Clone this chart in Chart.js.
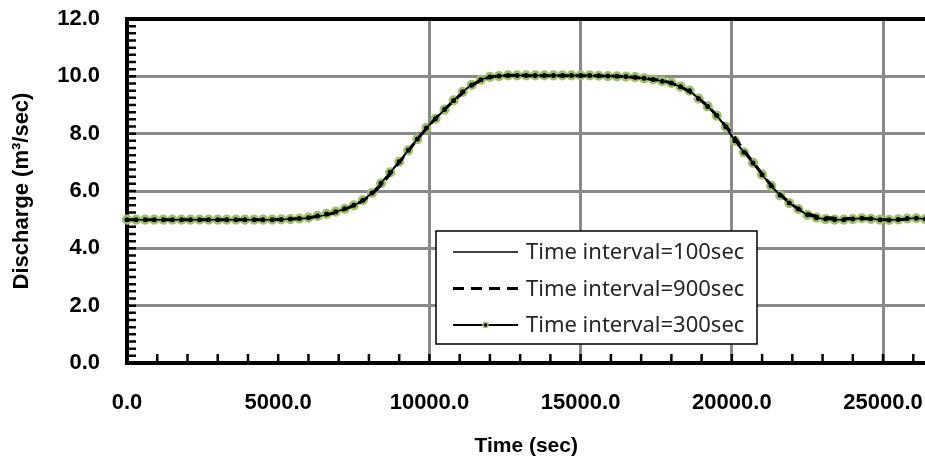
<!DOCTYPE html>
<html>
<head>
<meta charset="utf-8">
<script src="https://cdn.jsdelivr.net/npm/chart.js@4.4.1/dist/chart.umd.min.js"></script>
<style>
  body { margin: 0; background: #fff; overflow: hidden; }
</style>
</head>
<body>
<canvas id="chart" width="932" height="460"></canvas>
<script>
// discharge readings (m3/sec), one value per time step
const seriesNames = ['Time interval=100sec', 'Time interval=900sec', 'Time interval=300sec'];
const stepSec = [100, 900, 300];

const q100 = [
  5.00, 5.00, 5.00, 5.00, 5.00, 5.00, 5.00, 5.00, 5.00, 5.00,
  5.00, 5.00, 5.00, 5.00, 5.00, 5.00, 5.00, 5.00, 5.00, 5.00,
  5.00, 5.00, 5.00, 5.00, 5.00, 5.00, 5.00, 5.00, 5.00, 5.00,
  5.00, 5.00, 5.00, 5.00, 5.00, 5.00, 5.00, 5.00, 5.00, 5.00,
  5.00, 5.00, 5.00, 5.00, 5.00, 5.00, 5.00, 5.00, 5.00, 5.00,
  5.01, 5.01, 5.01, 5.02, 5.02, 5.02, 5.03, 5.03, 5.04, 5.05,
  5.06, 5.07, 5.09, 5.11, 5.13, 5.15, 5.18, 5.21, 5.24, 5.27,
  5.31, 5.34, 5.38, 5.42, 5.46, 5.50, 5.55, 5.61, 5.68, 5.76,
  5.84, 5.93, 6.03, 6.15, 6.27, 6.40, 6.52, 6.65, 6.77, 6.90,
  7.02, 7.15, 7.29, 7.42, 7.55, 7.68, 7.81, 7.94, 8.07, 8.20,
  8.31, 8.41, 8.52, 8.63, 8.73, 8.84, 8.95, 9.06, 9.16, 9.26,
  9.36, 9.46, 9.55, 9.63, 9.70, 9.77, 9.83, 9.88, 9.92, 9.95,
  9.98, 10.00, 10.01, 10.02, 10.02, 10.03, 10.03, 10.03, 10.03, 10.03,
  10.03, 10.03, 10.03, 10.03, 10.03, 10.03, 10.03, 10.03, 10.03, 10.03,
  10.03, 10.03, 10.03, 10.03, 10.03, 10.03, 10.03, 10.03, 10.03, 10.03,
  10.03, 10.03, 10.03, 10.03, 10.02, 10.02, 10.02, 10.02, 10.01, 10.01,
  10.01, 10.00, 10.00, 9.99, 9.99, 9.98, 9.98, 9.97, 9.96, 9.95,
  9.94, 9.93, 9.91, 9.90, 9.88, 9.87, 9.85, 9.83, 9.81, 9.79,
  9.77, 9.73, 9.68, 9.64, 9.60, 9.55, 9.50, 9.41, 9.32, 9.22,
  9.13, 9.04, 8.95, 8.84, 8.74, 8.63, 8.50, 8.37, 8.24, 8.08,
  7.91, 7.75, 7.62, 7.48, 7.35, 7.23, 7.10, 6.98, 6.84, 6.71,
  6.57, 6.44, 6.31, 6.18, 6.07, 5.96, 5.85, 5.76, 5.67, 5.58,
  5.51, 5.44, 5.37, 5.30, 5.23, 5.17, 5.13, 5.10, 5.07, 5.05,
  5.03, 5.02, 5.01, 5.00, 5.00, 5.00, 5.00, 5.00, 5.01, 5.01,
  5.02, 5.03, 5.04, 5.05, 5.05, 5.04, 5.03, 5.02, 5.01, 5.00,
  5.00, 4.99, 4.99, 5.00, 5.00, 5.01, 5.02, 5.03, 5.04, 5.04,
  5.05, 5.05, 5.04, 5.03, 5.02
];

const q900 = [
  5.00, 5.00, 5.00, 5.00, 5.00, 5.00, 5.02, 5.12, 5.36, 5.90,
  7.00, 8.18, 9.14, 9.86, 10.03, 10.02, 10.02, 10.02, 10.00, 9.93,
  9.76, 9.23, 8.26, 7.00, 5.88, 5.22, 5.05, 5.04, 5.00, 5.03
];

const q300 = [
  5.00, 5.00, 5.00, 5.00, 5.00, 5.00, 5.00, 5.00, 5.00, 5.00,
  5.00, 5.00, 5.00, 5.00, 5.00, 5.00, 5.00, 5.01, 5.02, 5.04,
  5.07, 5.13, 5.20, 5.28, 5.38, 5.50, 5.68, 5.93, 6.27, 6.65,
  7.02, 7.42, 7.81, 8.20, 8.52, 8.84, 9.16, 9.46, 9.70, 9.88,
  9.98, 10.01, 10.03, 10.03, 10.03, 10.03, 10.03, 10.03, 10.03, 10.03,
  10.03, 10.03, 10.02, 10.01, 10.00, 9.99, 9.97, 9.93, 9.89, 9.83,
  9.77, 9.64, 9.50, 9.22, 8.95, 8.63, 8.24, 7.75, 7.35, 6.98,
  6.57, 6.18, 5.85, 5.58, 5.37, 5.17, 5.07, 5.02, 5.00, 5.00,
  5.02, 5.05, 5.03, 5.00, 4.99, 5.01, 5.04, 5.05, 5.02
];

// axis ticks
const xTicks = [0, 5000, 10000, 15000, 20000, 25000];
const yTicks = [0, 2, 4, 6, 8, 10, 12];
const xMax = 26400, yMax = 12;
const xMinor = 1000, yMinor = 0.25;

const toPoints = (vals, dt) => vals.map((v, i) => ({ x: i * dt, y: v }));

const tickFont = { family: 'Liberation Sans, Arial, sans-serif', size: 22, weight: 'bold' };
const titleFont = { family: 'Liberation Sans, Arial, sans-serif', size: 21, weight: 'bold' };
const green = '#9fc06a';
const gridGray = '#8a8a8a';

// plot frame and small inner ticks
const frame = {
  id: 'frame',
  beforeDatasetsDraw(chart) {
    const { ctx, chartArea: a, scales: { x, y } } = chart;
    ctx.save();
    ctx.strokeStyle = '#000';
    ctx.lineWidth = 2.5;
    ctx.beginPath();
    for (let v = yMinor; v < yMax; v += yMinor) {
      const py = y.getPixelForValue(v);
      ctx.moveTo(a.left, py); ctx.lineTo(a.left + 9, py);
    }
    for (let t = xMinor; t < xMax; t += xMinor) {
      const px = x.getPixelForValue(t);
      ctx.moveTo(px, a.bottom); ctx.lineTo(px, a.bottom - 9);
    }
    ctx.stroke();
    ctx.lineWidth = 4;
    ctx.beginPath();
    ctx.moveTo(a.right + 10, a.top);
    ctx.lineTo(a.left, a.top);
    ctx.lineTo(a.left, a.bottom);
    ctx.lineTo(a.right + 10, a.bottom);
    ctx.stroke();
    ctx.restore();
  }
};

// legend box inside the plot
const boxLegend = {
  id: 'boxLegend',
  afterDraw(chart, args, opts) {
    const ctx = chart.ctx;
    const b = opts.box;
    ctx.save();
    ctx.fillStyle = '#fff';
    ctx.fillRect(b.left, b.top, b.width, b.height);
    ctx.strokeStyle = '#000';
    ctx.lineWidth = 1.5;
    ctx.strokeRect(b.left, b.top, b.width, b.height);
    ctx.font = '22px "Noto Sans", sans-serif';
    ctx.textBaseline = 'middle';
    chart.data.datasets.forEach((ds, i) => {
      const cy = b.top + opts.rowTop + i * opts.rowGap;
      const x0 = b.left + 17, x1 = b.left + 82;
      ctx.strokeStyle = '#000';
      ctx.lineWidth = ds.borderWidth;
      ctx.setLineDash(ds.borderDash || []);
      ctx.beginPath(); ctx.moveTo(x0, cy); ctx.lineTo(x1, cy); ctx.stroke();
      ctx.setLineDash([]);
      if (ds.pointRadius > 0) {
        ctx.beginPath();
        ctx.arc((x0 + x1) / 2, cy, 2.5, 0, Math.PI * 2);
        ctx.fillStyle = '#000'; ctx.fill();
        ctx.lineWidth = 1.5; ctx.strokeStyle = green; ctx.stroke();
      }
      ctx.fillStyle = '#262626';
      ctx.fillText(ds.label, b.left + 90, cy + 1);
    });
    ctx.restore();
  }
};

new Chart(document.getElementById('chart'), {
  type: 'line',
  data: {
    datasets: [
      { label: seriesNames[0], data: toPoints(q100, stepSec[0]), borderColor: '#000', borderWidth: 1.5,
        pointRadius: 0, tension: 0, clip: false },
      { label: seriesNames[1], data: toPoints(q900, stepSec[1]), borderColor: '#000', borderWidth: 3,
        borderDash: [11, 7], pointRadius: 0, tension: 0.4, clip: false },
      { label: seriesNames[2], data: toPoints(q300, stepSec[2]), borderColor: '#000', borderWidth: 2,
        pointRadius: 3.8, pointBorderWidth: 2.6, pointBackgroundColor: '#000', pointBorderColor: green,
        tension: 0, clip: false }
    ]
  },
  options: {
    responsive: false,
    animation: false,
    layout: { padding: { top: 19, right: 0, left: 0, bottom: 0 } },
    plugins: {
      legend: { display: false },
      tooltip: { enabled: false },
      boxLegend: { box: { left: 436, top: 231, width: 321, height: 113 }, rowTop: 21, rowGap: 36.5 }
    },
    scales: {
      x: {
        type: 'linear', min: 0, max: xMax,
        afterBuildTicks: s => { s.ticks = xTicks.map(v => ({ value: v })); },
        afterFit: s => { s.height = 97; s.paddingLeft = 0; s.paddingRight = 0; },
        grid: {
          drawTicks: false, lineWidth: 3,
          color: c => (c.tick && c.tick.value >= 10000) ? gridGray : 'rgba(0,0,0,0)'
        },
        border: { display: false },
        ticks: {
          autoSkip: false, maxRotation: 0, minRotation: 0, padding: 27, color: '#000', font: tickFont,
          callback: v => Number(v).toFixed(1)
        },
        title: { display: true, text: 'Time (sec)', color: '#000', padding: { top: 0, bottom: 1 }, font: titleFont }
      },
      y: {
        min: 0, max: yMax,
        afterBuildTicks: s => { s.ticks = yTicks.map(v => ({ value: v })); },
        afterFit: s => { s.width = 127; s.paddingTop = 0; s.paddingBottom = 0; },
        grid: {
          drawTicks: false, lineWidth: 3,
          color: c => (c.tick && c.tick.value > 0 && c.tick.value < yMax) ? gridGray : 'rgba(0,0,0,0)'
        },
        border: { display: false },
        ticks: { autoSkip: false, padding: 27, color: '#000', font: tickFont, callback: v => Number(v).toFixed(1) },
        title: { display: true, text: 'Discharge (m³/sec)', color: '#000', padding: { top: 9, bottom: 0 },
          font: { family: 'Liberation Sans, Arial, sans-serif', size: 22, weight: 'bold' } }
      }
    }
  },
  plugins: [frame, boxLegend]
});
</script>
</body>
</html>
